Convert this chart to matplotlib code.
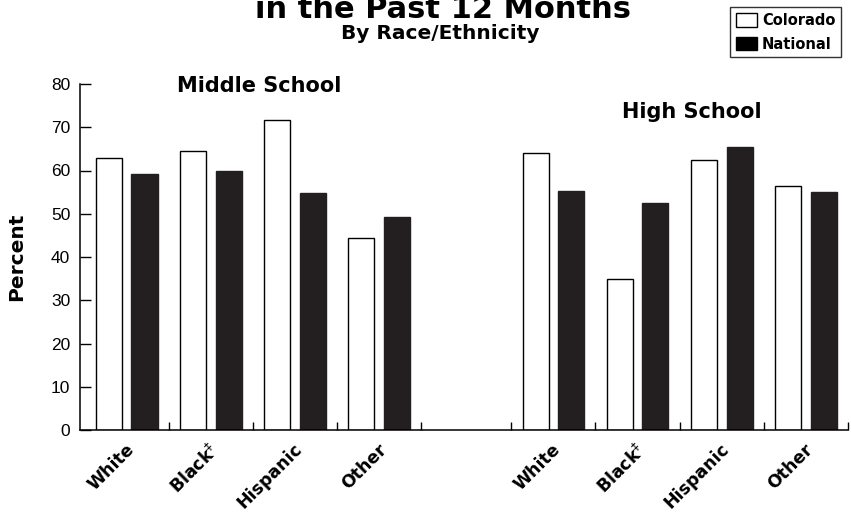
import matplotlib
matplotlib.use("Agg")
import matplotlib.pyplot as plt
import numpy as np
from matplotlib.patches import Patch

# percent of students, Colorado vs national
groups = ["White", "Black$^{‡}$", "Hispanic", "Other"]
ms_colorado = [63.0, 64.4, 71.6, 44.3]
ms_national = [59.3, 59.8, 54.9, 49.3]
hs_colorado = [64.1, 34.8, 62.5, 56.4]
hs_national = [55.2, 52.5, 65.4, 55.0]

heavy = dict(family="DejaVu Sans", weight="bold")

fig = plt.figure(figsize=(8.51, 5.14), dpi=100)
ax = fig.add_axes([80/851, 1 - 430/514, 768/851, 346/514])

w = 0.31
off = 0.212
hs_start = 5.07
ms_x = np.arange(4)
hs_x = np.arange(4) + hs_start

for xs, col, nat in [(ms_x, ms_colorado, ms_national), (hs_x, hs_colorado, hs_national)]:
    ax.bar(xs - off, col, w, color="white", edgecolor="black", linewidth=1.0)
    ax.bar(xs + off, nat, w, color="#231f20", edgecolor="#231f20", linewidth=1.0)

ax.set_xlim(-0.554, 8.57)
ax.set_ylim(0, 80)
ax.set_yticks(np.arange(0, 81, 10))
ax.tick_params(axis="y", direction="in", length=8, width=1, pad=7, labelsize=12.5)
for t in ax.get_yticklabels():
    t.set_family(["Liberation Sans", "DejaVu Sans"])

# small upward separators between categories
seps = list(ms_x + 0.5) + list(hs_x - 0.5) + [hs_x[-1] + 0.5]
ax.set_xticks(seps)
ax.set_xticklabels([])
ax.tick_params(axis="x", direction="in", length=6, width=1)

for s in ["top", "right"]:
    ax.spines[s].set_visible(False)
for s in ["left", "bottom"]:
    ax.spines[s].set_linewidth(1.1)

# rotated category names
labels_x = list(ms_x) + list(hs_x)
for i, x in enumerate(labels_x):
    ax.text(x - 0.02, -2.4, groups[i % 4], rotation=45, ha="right", va="top",
            rotation_mode="anchor", fontsize=12.5, **heavy)

ax.set_ylabel("Percent", fontsize=14.5, labelpad=18, **heavy)
ax.text(1.57, 79.5, "Middle School", ha="center", va="center", fontsize=15, **heavy)
ax.text(6.72, 73.5, "High School", ha="center", va="center", fontsize=15, **heavy)

fig.text(443/851, 1 - 18/514, "in the Past 12 Months", ha="center", va="baseline",
         fontsize=22, **heavy)
fig.text(440/851, 1 - 39/514, "By Race/Ethnicity", ha="center", va="baseline",
         fontsize=14.5, **heavy)

handles = [Patch(facecolor="white", edgecolor="black", label="Colorado"),
           Patch(facecolor="black", edgecolor="black", label="National")]
leg = fig.legend(handles=handles, loc="upper right", bbox_to_anchor=(841/851, 1 - 7/514),
                 frameon=True, fancybox=False, edgecolor="black", handlelength=1.45,
                 handleheight=1.05, handletextpad=0.3, labelspacing=0.6, borderpad=0.4,
                 borderaxespad=0, prop=dict(family="DejaVu Sans", weight="bold", size=10.5))
leg.get_frame().set_linewidth(1.0)

fig.savefig("out.png", dpi=100)
